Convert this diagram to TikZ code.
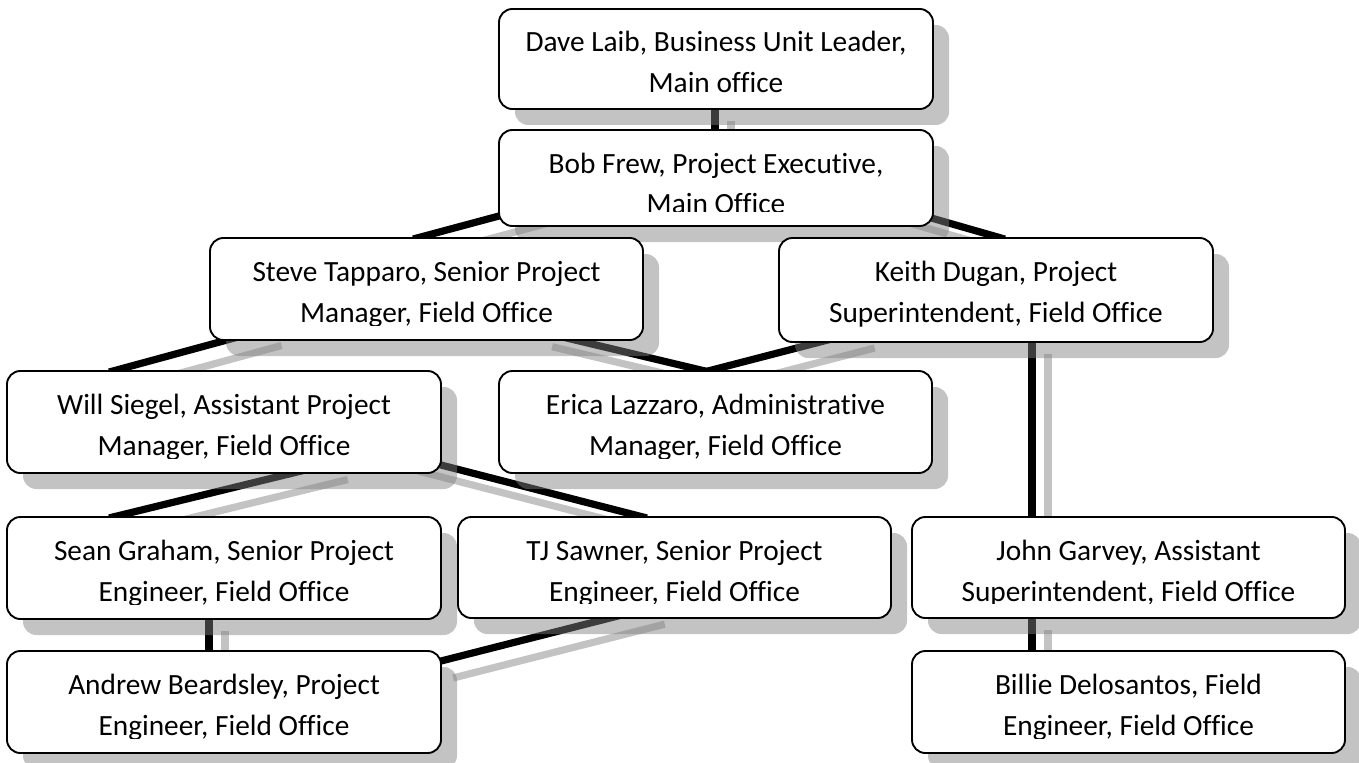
\documentclass[tikz,border=0pt]{standalone}
\usepackage{fontspec}
\setmainfont{Carlito}[Ligatures=NoCommon]
\usetikzlibrary{calc,shadows}

\pgfdeclarelayer{linkshade}
\pgfdeclarelayer{links}
\pgfsetlayers{linkshade,links,main}

\tikzset{
  orgbox/.style={draw=black, line width=1.4pt, fill=white, rounded corners=10pt,
    inner sep=0pt, outer sep=0pt,
    general shadow={fill=black!50, opacity=0.47, shadow xshift=12pt, shadow yshift=-12pt}},
  orgtext/.style={anchor=base, inner sep=0pt, font=\fontsize{22pt}{26pt}\selectfont},
  link/.style={line width=5.4pt, black},
  linkshade/.style={line width=5.4pt, black!50, opacity=0.47},
}

% box: name, left, right, top, bottom, first line, second line (units: px, y down)
\newcommand\orgbox[7]{%
  \node[orgbox, minimum width={(#3-#2)*0.75pt}, minimum height={(#5-#4)*0.75pt}]
    (#1) at ({(#2+#3)/2},{(#4+#5)/2}) {};
  \begin{scope}
    \clip (#1.north west) rectangle ($(#1.south east)+(0,-15)$);
    \node[orgtext] (#1-a) at ($(#1.north)+(0,43)$) {#6};
    \node[orgtext] (#1-b) at ($(#1.north)+(0,84)$) {#7};
  \end{scope}}

% connector with its offset shade: child point, parent point, reach into parent
\newcommand\orglink[3]{%
  \begin{pgfonlayer}{linkshade}
    \draw[linkshade, shorten <=-3pt, shorten >=#3] ($(#1)+(16,16)$) -- ($(#2)+(16,16)$);
  \end{pgfonlayer}
  \begin{pgfonlayer}{links}
    \draw[link, shorten <=-3pt, shorten >=#3] (#1) -- (#2);
  \end{pgfonlayer}}

\begin{document}
\begin{tikzpicture}[x=0.75pt, y=-0.75pt]
\useasboundingbox (0,0) rectangle (1359,763);

\orgbox{dave}{499}{933}{9}{109}{Dave Laib, Business Unit Leader,}{Main office}
\orgbox{bob}{499}{933}{130}{226}{Bob Frew, Project Executive,}{Main Office}
\orgbox{steve}{210}{643}{238}{340}{Steve Tapparo, Senior Project}{Manager, Field Office}
\orgbox{keith}{779}{1213}{238}{342}{Keith Dugan, Project}{Superintendent, Field Office}
\orgbox{will}{7}{441}{371}{473}{Will Siegel, Assistant Project}{Manager, Field Office}
\orgbox{erica}{499}{932}{371}{473}{Erica Lazzaro, Administrative}{Manager, Field Office}
\orgbox{sean}{7}{441}{517}{619}{Sean Graham, Senior Project}{Engineer, Field Office}
\orgbox{tj}{458}{891}{517}{618}{TJ Sawner, Senior Project}{Engineer, Field Office}
\orgbox{john}{912}{1345}{517}{618}{John Garvey, Assistant}{Superintendent, Field Office}
\orgbox{andrew}{7}{441}{651}{753}{Andrew Beardsley, Project}{Engineer, Field Office}
\orgbox{billie}{912}{1345}{651}{753}{Billie Delosantos, Field}{Engineer, Field Office}

% attachment points on the box borders
\coordinate (l1a) at ($(bob.north)+(-1,0)$);
\coordinate (l1b) at ($(dave.south)+(-1,0)$);
\coordinate (l2a) at ($(steve.north)+(-9.5,0)$);
\coordinate (l2b) at ($(bob.west)+(0,38)$);
\coordinate (l3a) at ($(keith.north)+(5,0)$);
\coordinate (l3b) at ($(bob.east)+(0,40.5)$);
\coordinate (l4a) at ($(will.north west)+(106,0)$);
\coordinate (l4b) at ($(steve.south west)+(17,0)$);
\coordinate (l5a) at ($(erica.north)+(-10.5,0)$);
\coordinate (l5b) at ($(steve.south east)+(-68,0)$);
\coordinate (l6a) at ($(erica.north)+(-7.5,0)$);
\coordinate (l6b) at ($(keith.south west)+(41,0)$);
\coordinate (l7a) at ($(john.north west)+(120,0)$);
\coordinate (l7b) at ($(keith.south west)+(253,0)$);
\coordinate (l8a) at ($(sean.north west)+(106,0)$);
\coordinate (l8b) at ($(will.south west)+(286,0)$);
\coordinate (l9a) at ($(tj.north west)+(185,0)$);
\coordinate (l9b) at ($(will.south east)+(0,-8)$);
\coordinate (l10a) at ($(andrew.north west)+(202,0)$);
\coordinate (l10b) at ($(sean.south west)+(202,0)$);
\coordinate (l11a) at ($(andrew.north east)+(0,10)$);
\coordinate (l11b) at ($(tj.south west)+(152,0)$);
\coordinate (l12a) at ($(billie.north west)+(120,0)$);
\coordinate (l12b) at ($(john.south west)+(120,0)$);

\orglink{l1a}{l1b}{-3pt}
\orglink{l2a}{l2b}{-30pt}
\orglink{l3a}{l3b}{-30pt}
\orglink{l4a}{l4b}{-30pt}
\orglink{l5a}{l5b}{-30pt}
\orglink{l6a}{l6b}{-30pt}
\orglink{l7a}{l7b}{-3pt}
\orglink{l8a}{l8b}{-30pt}
\orglink{l9a}{l9b}{-30pt}
\orglink{l10a}{l10b}{-3pt}
\orglink{l11a}{l11b}{-30pt}
\orglink{l12a}{l12b}{-3pt}
\end{tikzpicture}
\end{document}
